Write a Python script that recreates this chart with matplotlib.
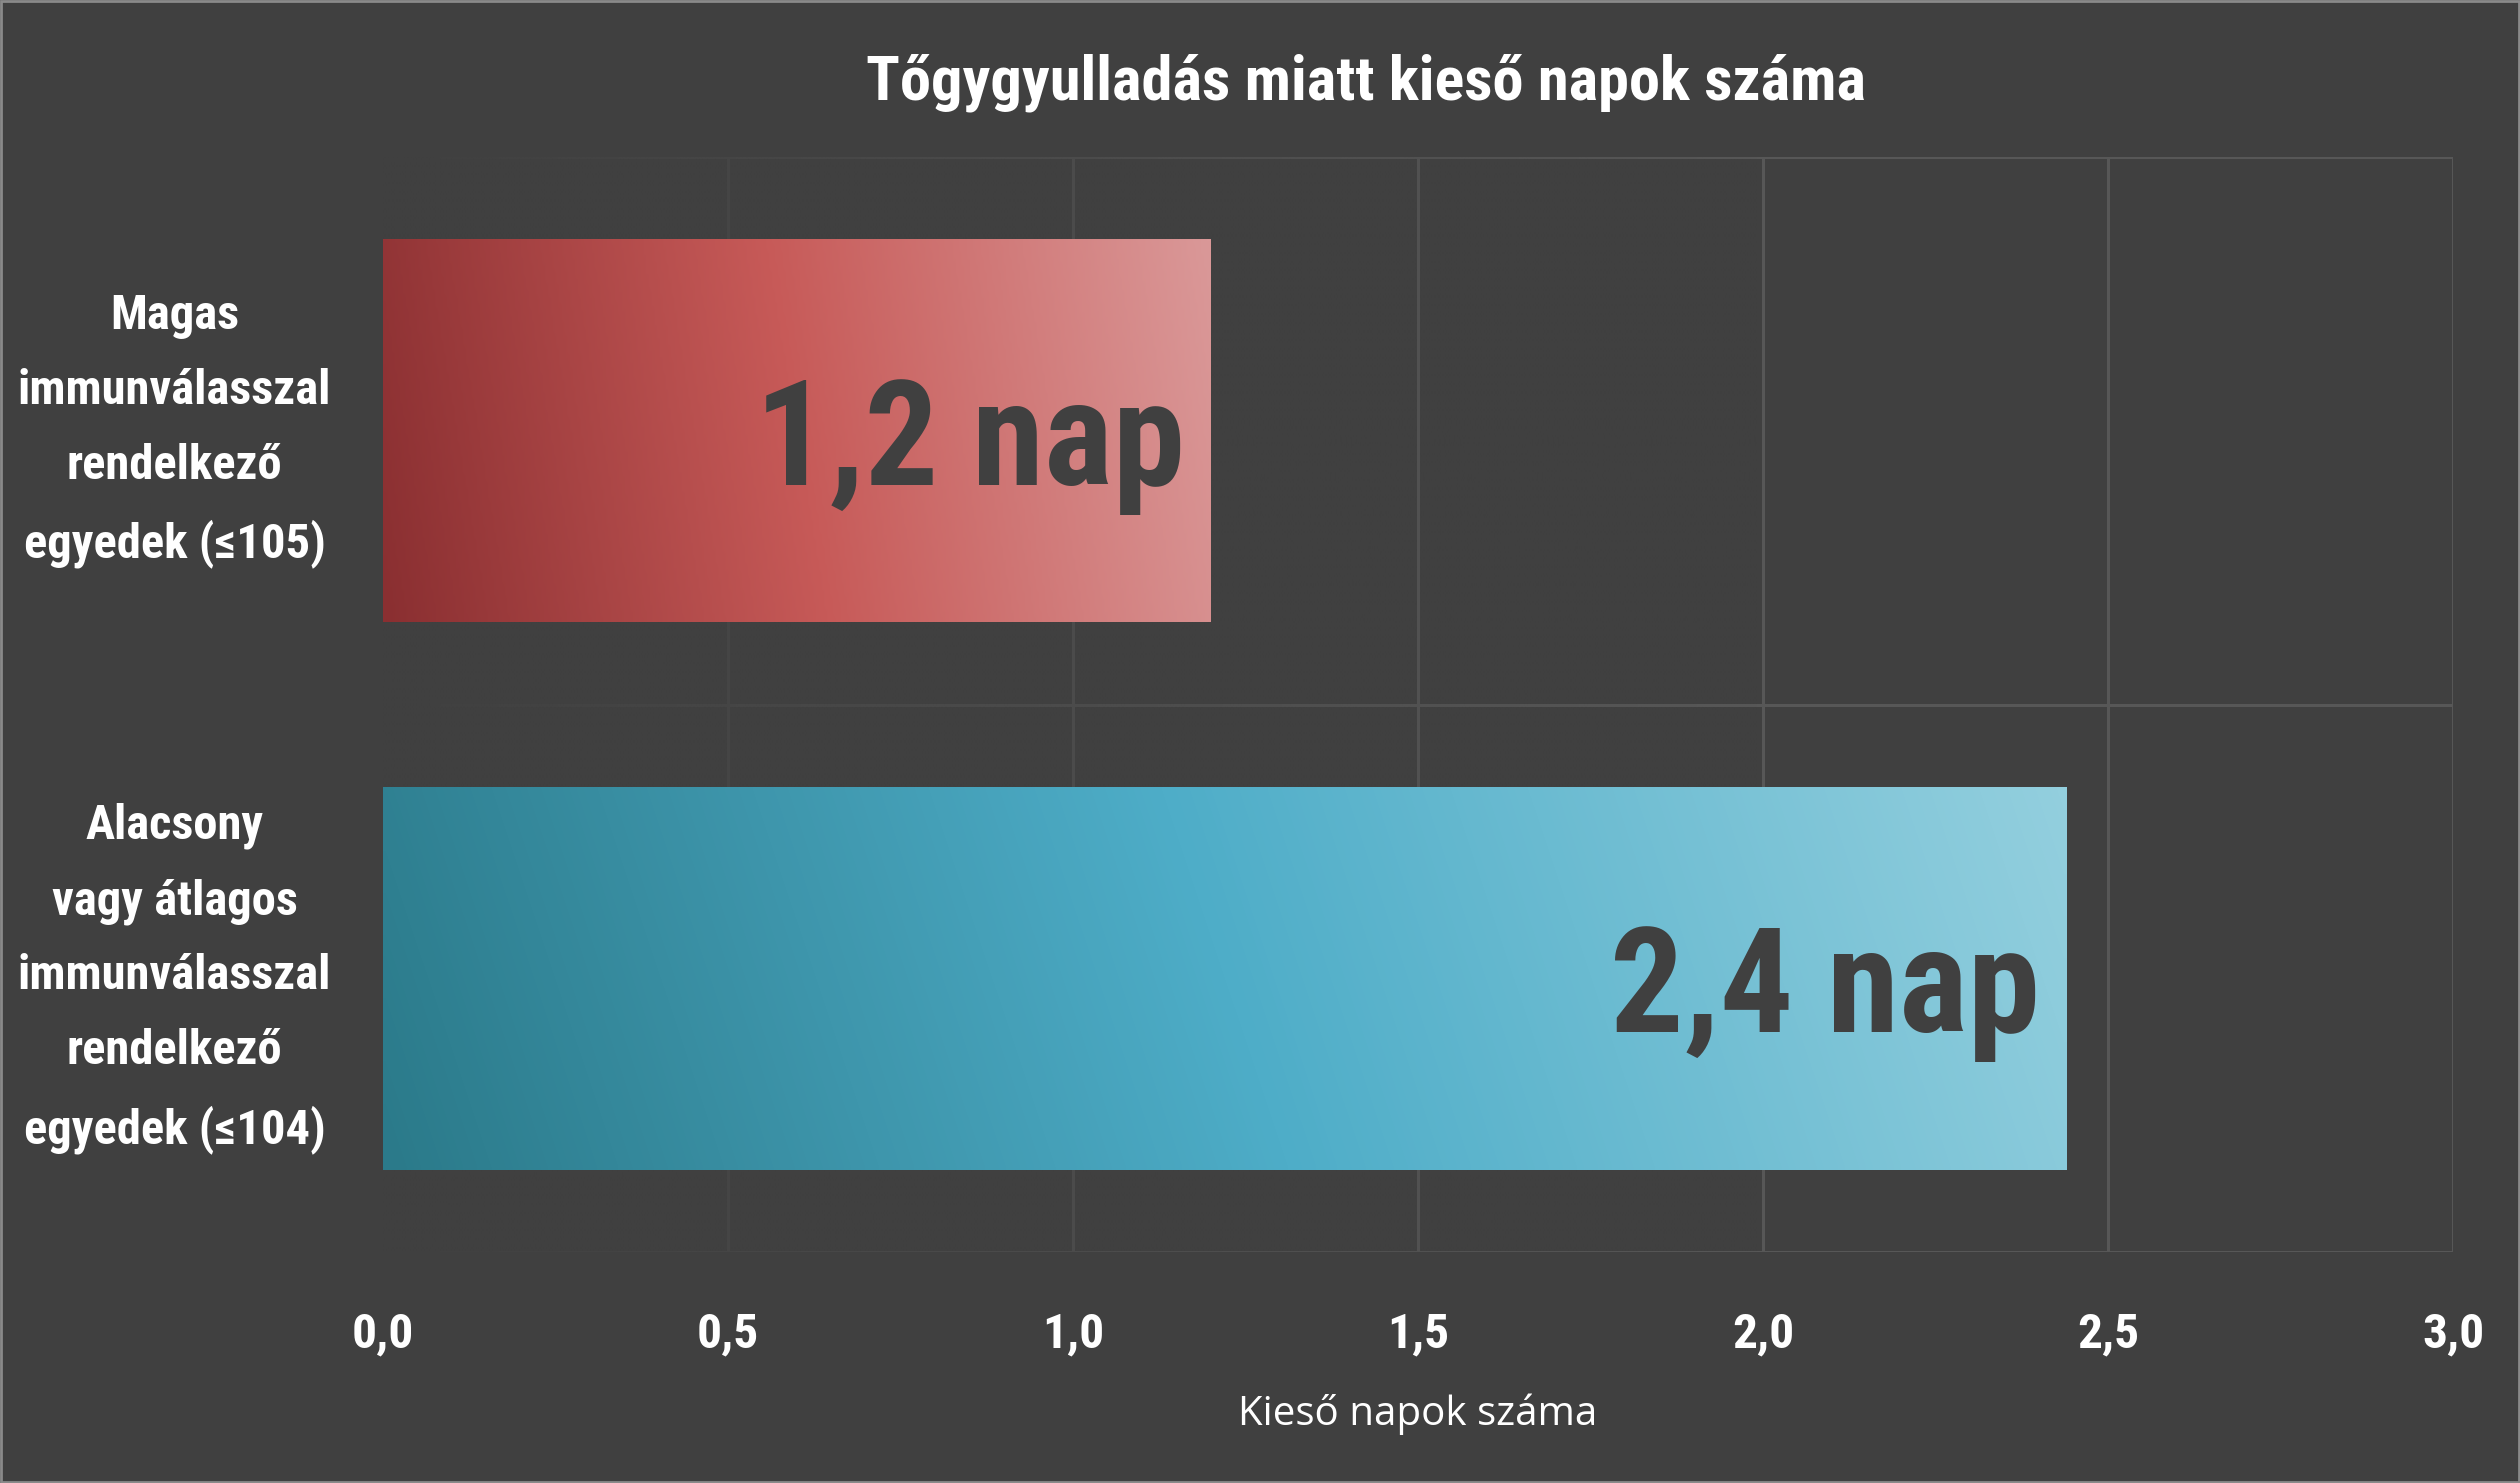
import numpy as np
import matplotlib
matplotlib.use("Agg")
import matplotlib.pyplot as plt
from matplotlib import font_manager
from matplotlib.colors import LinearSegmentedColormap
import matplotlib.transforms as mtransforms

# data
categories = ["Alacsony\nvagy átlagos\nimmunválasszal\nrendelkező\negyedek (≤104)",
              "Magas\nimmunválasszal\nrendelkező\negyedek (≤105)"]
values = [2.44, 1.2]
bar_labels = ["2,4 nap", "1,2 nap"]
xticks = [0.0, 0.5, 1.0, 1.5, 2.0, 2.5, 3.0]
xtick_labels = ["0,0", "0,5", "1,0", "1,5", "2,0", "2,5", "3,0"]
title = "Tőgygyulladás miatt kieső napok száma"
xlabel = "Kieső napok száma"

bg = "#404040"
grid_c = "#575757"
gradients = [
    ["#2b7a8a", "#4eadc8", "#93cfde"],   # blue bar
    ["#8a2f31", "#c75a58", "#da9898"],   # red bar
]

# look for a narrow bold face, the reference uses a condensed font
cond = ["DejaVu Sans"]
stretch = "normal"
prefs = ["robotocondensed-bold", "liberationsansnarrow-bold", "opensans_condensed-bold",
         "opensanscondensed-bold", "dejavusanscondensed-bold", "notosans-condensedbold",
         "dejavusanscondensed"]
found = {}
for f in font_manager.fontManager.ttflist:
    key = f.fname.split("/")[-1].rsplit(".", 1)[0].lower()
    found[key] = f
for p in prefs:
    if p in found:
        cond = [found[p].name, "DejaVu Sans"]
        stretch = found[p].stretch
        break

fig = plt.figure(figsize=(25.2, 14.83), dpi=100, facecolor=bg)
ax = fig.add_axes([383 / 2520, 231 / 1483, 2070 / 2520, 1095 / 1483])
ax.set_facecolor(bg)

ypos = np.arange(len(categories))
bars = ax.barh(ypos, values, height=0.7, facecolor="none", edgecolor="none", zorder=3)

# grid lines + border (drawn by hand so they can fade out to the left)
for x in xticks[1:]:
    ax.axvline(x, color=grid_c, lw=2.2, zorder=0.5)
for y in [-0.5, 0.5, 1.5]:
    ax.axhline(y, color=grid_c, lw=2.2, zorder=0.5)

fade = np.zeros((2, 400, 4))
fade[..., :3] = matplotlib.colors.to_rgb(bg)
xs = np.linspace(0, 3, 400)
fade[..., 3] = np.clip(1.0 - xs / 2.0, 0, 1)
ax.imshow(fade, extent=(0, 3, -0.52, 1.52), aspect="auto", zorder=1,
          interpolation="bilinear")

# gradient fill for bars
for b, cols in zip(bars, gradients):
    cmap = LinearSegmentedColormap.from_list("g", cols)
    GX, GY = np.meshgrid(np.linspace(0, 1, 300), np.linspace(0, 1, 60))
    t = np.clip(GX * 0.93 + GY * 0.07, 0, 1)
    x0, y0, w, h = b.get_x(), b.get_y(), b.get_width(), b.get_height()
    im = ax.imshow(t, cmap=cmap, extent=(x0, x0 + w, y0, y0 + h), origin="lower",
                   aspect="auto", zorder=2, interpolation="bilinear")
    im.set_clip_path(b)

ax.set_xlim(0, 3)
ax.set_ylim(-0.5, 1.5)

tkw = dict(family=cond, fontweight="bold", fontstretch=stretch)

# value labels inside bars
off = mtransforms.offset_copy(ax.transData, fig=fig, x=-19, y=-10, units="points")
val_txt = []
for yv, v, lab in zip(ypos, values, bar_labels):
    val_txt.append(ax.text(v, yv, lab, transform=off, ha="right", va="center",
                           fontsize=120, color=bg, zorder=4, **tkw))

for s in ax.spines.values():
    s.set_visible(False)

ax.set_xticks(xticks)
ax.set_xticklabels(xtick_labels, fontsize=40, color="white", **tkw)
ax.set_yticks(ypos)
ax.set_yticklabels(categories, fontsize=35, color="white",
                   ha="center", va="center", linespacing=1.8, **tkw)
ax.tick_params(axis="x", length=0, pad=43)
ax.tick_params(axis="y", length=0, pad=150)

ax.set_xlabel(xlabel, family=["Open Sans", "DejaVu Sans"], fontsize=29, color="white", va="center")
ax.xaxis.set_label_coords(0.5, -0.148)

ttl = fig.text(1366 / 2520, 1 - 100 / 1483, title, ha="center", va="baseline",
               fontsize=45, color="white", **tkw)

# shrink texts whose font is wider than the reference's
fig.canvas.draw()
r = fig.canvas.get_renderer()


def fit(texts, target):
    w = max(t.get_window_extent(r).width for t in texts)
    if w > target:
        for t in texts:
            t.set_fontsize(t.get_fontsize() * target / w)


fit([ttl], 1000)
fit(val_txt[:1], 430)
fit(val_txt[1:], 430 * val_txt[1].get_window_extent(r).width / val_txt[0].get_window_extent(r).width)
fit(ax.get_yticklabels(), 330)
fit(ax.get_xticklabels()[4:5], 62)
fs = ax.get_xticklabels()[4].get_fontsize()
for t in ax.get_xticklabels():
    t.set_fontsize(fs)
fs = min(t.get_fontsize() for t in ax.get_yticklabels())
for t in ax.get_yticklabels():
    t.set_fontsize(fs)
fs = min(t.get_fontsize() for t in val_txt)
for t in val_txt:
    t.set_fontsize(fs)

# thin frame around the whole picture
fig.patches.append(plt.Rectangle((0.0005, 0.0008), 0.999, 0.9985, transform=fig.transFigure,
                                 fill=False, edgecolor="#8a8a8a", lw=2))

fig.savefig("out.png", dpi=100, facecolor=bg)
